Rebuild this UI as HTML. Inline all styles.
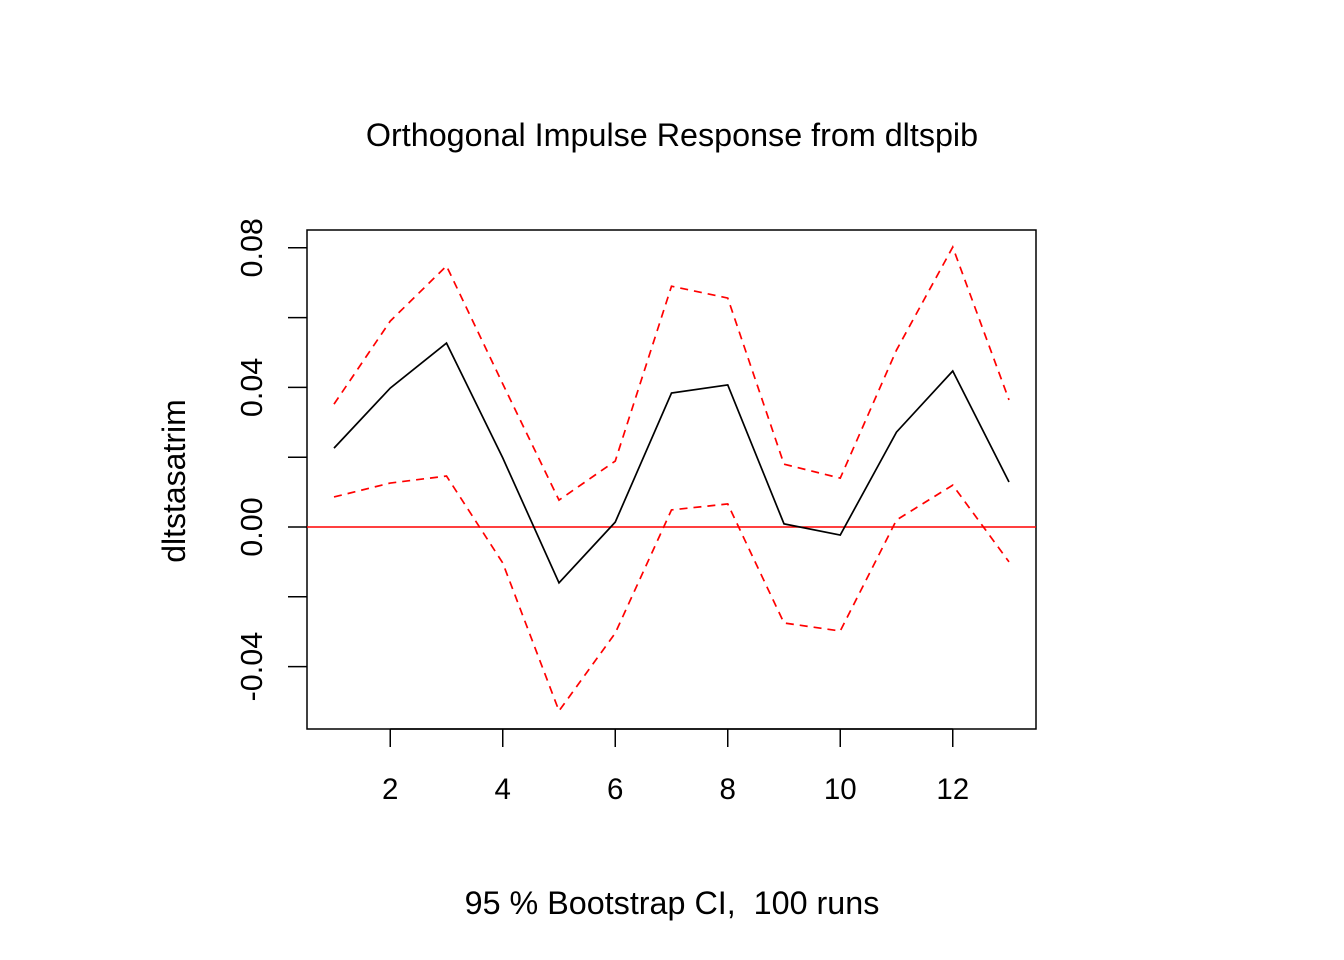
<!DOCTYPE html>
<html><head><meta charset="utf-8"><style>
body{margin:0;background:#fff}
svg{display:block}
text{font-family:"Liberation Sans",sans-serif;fill:#000}
</style></head><body>
<svg id="c" width="1344" height="960">
<text x="672" y="146" font-size="32.3" text-anchor="middle">Orthogonal Impulse Response from dltspib</text>
<text x="672" y="914" font-size="32.3" text-anchor="middle" xml:space="preserve" style="white-space:pre">95 % Bootstrap CI,  100 runs</text>
<text transform="translate(185,481) rotate(-90)" font-size="32" text-anchor="middle">dltstasatrim</text>
<rect x="307" y="230" width="729" height="499" fill="none" stroke="#000" stroke-width="1.5"/>
</svg>
<script>
const periods=[1,2,3,4,5,6,7,8,9,10,11,12,13];
const response=[0.0226,0.0398,0.0527,0.0198,-0.0160,0.0014,0.0384,0.0407,0.0009,-0.0023,0.0272,0.0447,0.0129];
const upper=[0.0352,0.0590,0.0748,0.0410,0.0077,0.0189,0.0690,0.0656,0.0180,0.0140,0.0507,0.0802,0.0364];
const lower=[0.0086,0.0126,0.0146,-0.0103,-0.0527,-0.0304,0.0049,0.0066,-0.0275,-0.0298,0.0020,0.0120,-0.0100];
const xTicks=[2,4,6,8,10,12];
const yTicks=[-0.04,-0.02,0,0.02,0.04,0.06,0.08];
const yLabels=["-0.04","","0.00","","0.04","","0.08"];

const NS="http://www.w3.org/2000/svg";
const svg=document.getElementById('c');
const X=v=>334+(v-1)*(1009-334)/12;
const Y=v=>527-v*3490;
function mk(t,a){const e=document.createElementNS(NS,t);for(const k in a)e.setAttribute(k,a[k]);svg.appendChild(e);return e;}

const zl=mk('line',{x1:307,x2:1036,y1:Y(0),y2:Y(0),stroke:'#f00','stroke-width':1.5});



function series(arr,color,dash,name){
  const p=mk('polyline',{points:arr.map((v,i)=>X(periods[i])+','+Y(v)).join(' '),fill:'none',stroke:color,'stroke-width':1.7,'stroke-dasharray':dash});
  
  
}
series(upper,'#f00','8 6','upper-ci-line');
series(lower,'#f00','8 6','lower-ci-line');
series(response,'#000','none','response-line');

xTicks.forEach(t=>{
  const l=mk('line',{x1:X(t),x2:X(t),y1:729,y2:747,stroke:'#000','stroke-width':1.5});
  
  
  const tx=mk('text',{x:X(t),y:799,'font-size':29.5,'text-anchor':'middle'});
  tx.textContent=t;
  
  
});
const ax=mk('line',{x1:X(2),x2:X(12),y1:729,y2:729,stroke:'#000','stroke-width':1.5});



yTicks.forEach((t,i)=>{
  const l=mk('line',{x1:288,x2:307,y1:Y(t),y2:Y(t),stroke:'#000','stroke-width':1.5});
  
  
  if(yLabels[i]){
    const tx=mk('text',{transform:`translate(262,${Y(t)}) rotate(-90)`,'font-size':30.5,'text-anchor':'middle'});
    tx.textContent=yLabels[i];
    
    
  }
});
</script>
</body></html>
